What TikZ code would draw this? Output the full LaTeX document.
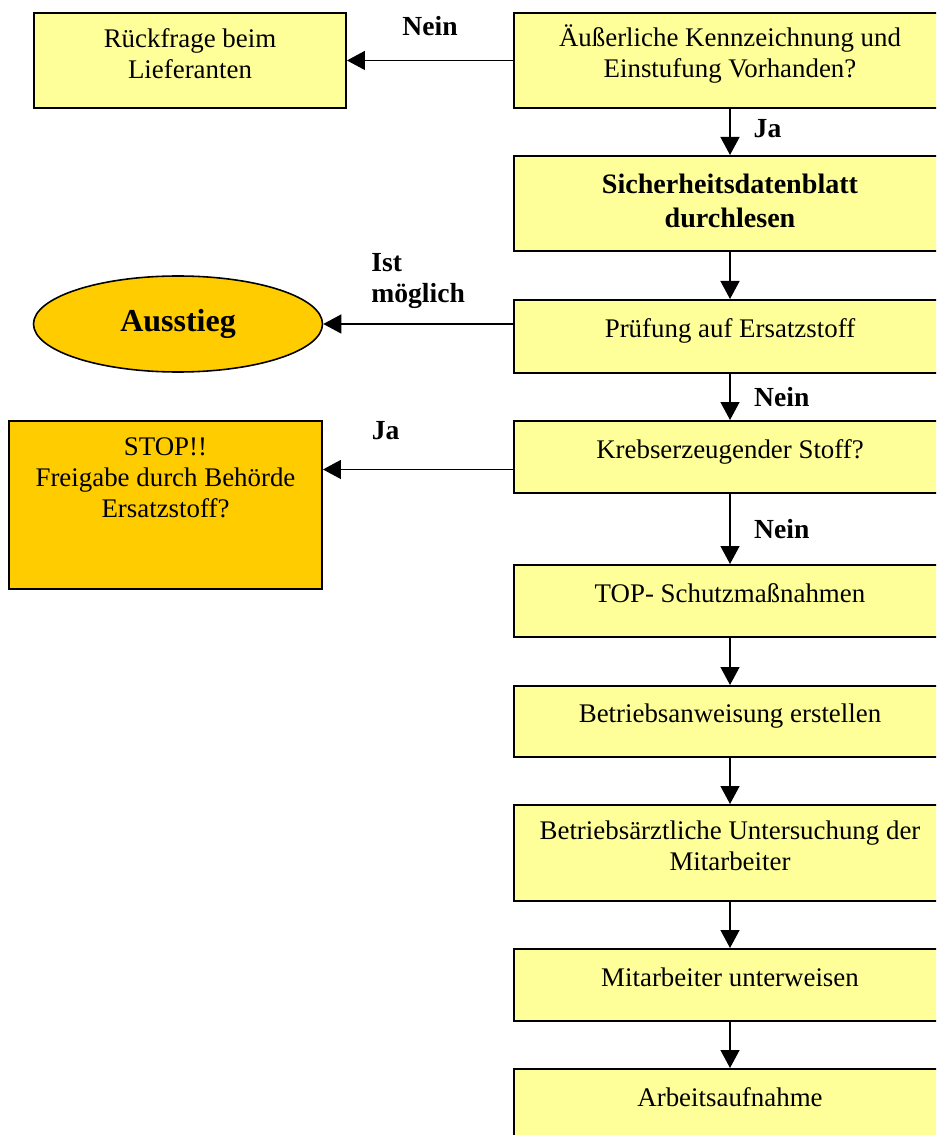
\documentclass[tikz,border=0pt]{standalone}
\usepackage{fontspec}
\setmainfont{Liberation Serif}
\usetikzlibrary{positioning,arrows.meta,shapes.geometric}

\definecolor{boxyellow}{HTML}{FFFF99}
\definecolor{boxorange}{HTML}{FFCC00}
\newcommand{\bottompad}[1]{\rule[-#1]{0pt}{0pt}}

\begin{document}
\begin{tikzpicture}[
  st/.style={draw, rectangle, line width=1.1pt, anchor=north,
             align=center, inner sep=0pt,
             font=\fontsize{15.3}{17.6}\selectfont},
  sstep/.style={st, fill=boxyellow, minimum width=8.64cm},
  sone/.style={sstep, minimum height=1.44cm, text height=10.5pt, text depth=9.3pt},
  stwo/.style={sstep, minimum height=1.9cm},
  sside/.style={st, minimum height=1.9cm},
  sexit/.style={draw, ellipse, line width=0.9pt, fill=boxorange,
                minimum width=5.78cm, minimum height=1.92cm, inner sep=0pt,
                font=\fontsize{18.2}{22}\selectfont\bfseries},
  arr/.style={-{Triangle[length=0.36cm,width=0.38cm]}, line width=0.8pt},
  lbl/.style={font=\fontsize{15.7}{17.6}\selectfont\bfseries, inner sep=0pt}
]

\useasboundingbox (0,0) rectangle (18.72,-22.7);
\clip (0,0) rectangle (18.72,-22.7);

%% -- main column -------------------------------------------------------
\node[stwo] (kennz) at (14.6,-0.24)
  {Äußerliche Kennzeichnung und\\Einstufung Vorhanden?\bottompad{10.9pt}};
\node[stwo, font=\fontsize{16}{19.3}\selectfont\bfseries] (sdb) at (14.6,-3.1)
  {Sicherheitsdatenblatt\\durchlesen\bottompad{2.6pt}};
\node[sone, minimum height=1.46cm] (pruef) at (14.6,-5.98) {Prüfung auf Ersatzstoff};
\node[sone] (krebs)  at (14.6,-8.4)   {Krebserzeugender Stoff?};
\node[sone] (top)    at (14.6,-11.28) {TOP- Schutzmaßnahmen};
\node[sone, minimum height=1.42cm] (ba) at (14.6,-13.7) {Betriebsanweisung erstellen};
\node[stwo, minimum height=1.92cm] (unters) at (14.6,-16.08)
  {Betriebsärztliche Untersuchung der\\Mitarbeiter\bottompad{8.7pt}};
\node[sone] (unterw) at (14.6,-18.96) {Mitarbeiter unterweisen};
\node[sone] (arbeit) at (14.6,-21.36) {Arbeitsaufnahme};

%% -- side boxes --------------------------------------------------------
\node[sside, fill=boxyellow, minimum width=6.24cm] (rueck) at (3.8,-0.24)
  {Rückfrage beim\\Lieferanten\bottompad{8.2pt}};
\node[sexit] (aus) at (3.56,-6.48) {Ausstieg};
\node[st, fill=boxorange, minimum width=6.26cm, minimum height=3.36cm] (stop) at (3.31,-8.4)
  {STOP!!\\Freigabe durch Behörde\\Ersatzstoff?\bottompad{30.7pt}};

%% -- edges -------------------------------------------------------------
\draw[arr] (kennz) -- node[lbl,above=0.48cm,midway]{Nein} (rueck);
\draw[arr] (kennz) -- node[lbl,right=0.46cm,pos=0.42]{Ja} (sdb);
\draw[arr] (sdb) -- (pruef);
\draw[arr] (aus -| pruef.west) -- node[lbl,above=0.3cm,midway,align=left]{Ist\\möglich} (aus);
\draw[arr] (pruef) -- node[lbl,right=0.47cm,midway]{Nein} (krebs);
\draw[arr] ([yshift=-0.25cm]krebs.west)
           -- node[lbl,above=0.58cm,pos=0.67]{Ja} ([yshift=-0.25cm]krebs.west -| stop.east);
\draw[arr] (krebs) -- node[lbl,right=0.47cm,midway]{Nein} (top);
\draw[arr] (top) -- (ba);
\draw[arr] (ba) -- (unters);
\draw[arr] (unters) -- (unterw);
\draw[arr] (unterw) -- (arbeit);

\end{tikzpicture}
\end{document}
